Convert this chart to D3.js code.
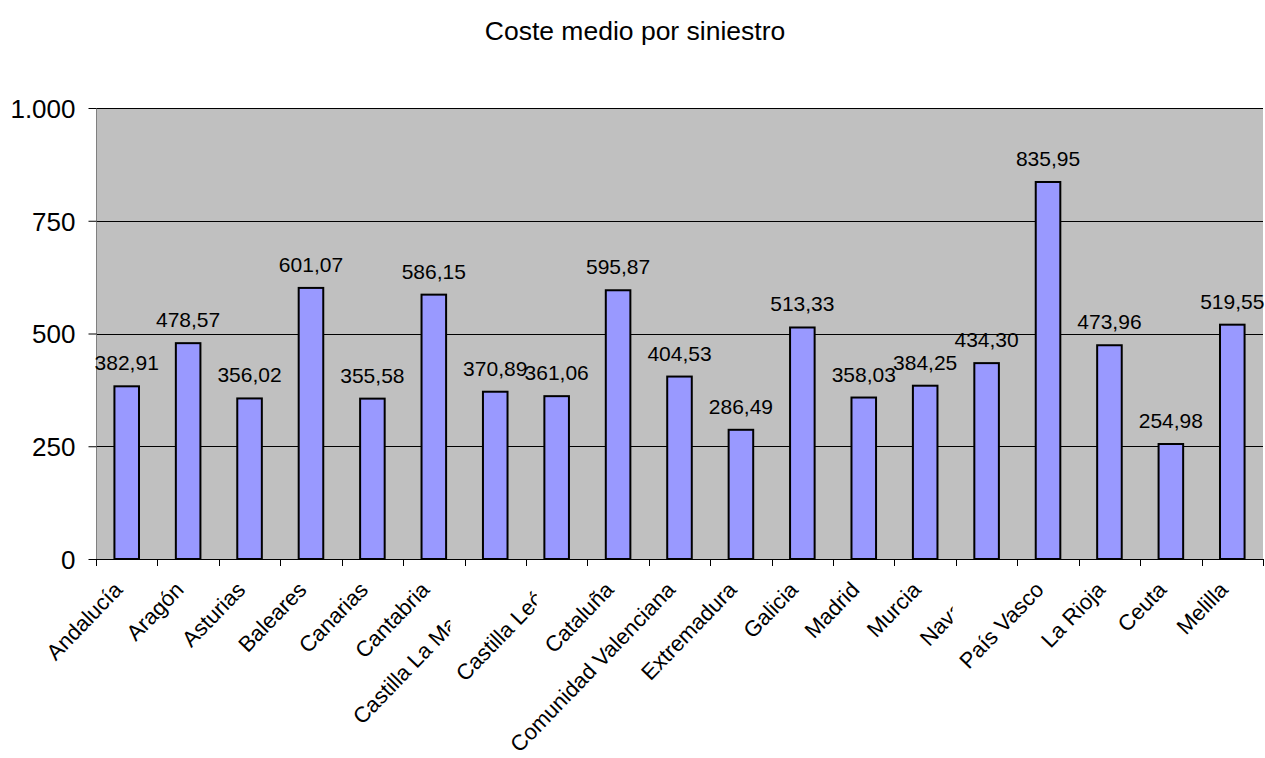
<!DOCTYPE html>
<html>
<head>
<meta charset="utf-8">
<script src="https://cdn.jsdelivr.net/npm/d3@7"></script>
<style>
  html, body { margin: 0; padding: 0; background: #fff; }
  svg { display: block; font-family: "Liberation Sans", Arial, sans-serif; }
</style>
</head>
<body>
<svg id="chart" width="1265" height="758"></svg>
<script>
const title = "Coste medio por siniestro";
const categories = ["Andalucía", "Aragón", "Asturias", "Baleares", "Canarias", "Cantabria",
  "Castilla La Mancha", "Castilla León", "Cataluña", "Comunidad Valenciana", "Extremadura",
  "Galicia", "Madrid", "Murcia", "Navarra", "País Vasco", "La Rioja", "Ceuta", "Melilla"];
const values = [382.91, 478.57, 356.02, 601.07, 355.58, 586.15, 370.89, 361.06, 595.87,
  404.53, 286.49, 513.33, 358.03, 384.25, 434.30, 835.95, 473.96, 254.98, 519.55];
const yTicks = [0, 250, 500, 750, 1000];
const yTickLabels = ["0", "250", "500", "750", "1.000"];
// visible part of some category labels is clipped (offset from category centre, px)
const labelClip = { "Castilla La Mancha": -45, "Castilla León": -20, "Navarra": -34 };

(function () {
const svg = d3.select("#chart");
const pL = 96, pR = 1263, pT = 108, pB = 559;

const x = d3.scaleBand().domain(categories).range([pL, pR]).paddingInner(0.6).paddingOuter(0.3);
const xStep = d3.scalePoint().domain(categories).range([pL, pR]).padding(0.5);
const y = d3.scaleLinear().domain([0, 1000]).range([pB, pT]);

// title
svg.append("text").attr("x", 635).attr("y", 40).attr("text-anchor", "middle")
  .attr("font-size", 26.5).attr("fill", "#000").text(title);

// plot area
svg.append("rect").attr("x", pL).attr("y", pT).attr("width", pR - pL).attr("height", pB - pT)
  .attr("fill", "#C0C0C0");

// gridlines
svg.append("g").selectAll("line").data(yTicks.filter(d => d > 0)).join("line")
  .attr("x1", pL).attr("x2", pR)
  .attr("y1", d => Math.round(y(d)) + 0.5).attr("y2", d => Math.round(y(d)) + 0.5)
  .attr("stroke", "#000").attr("stroke-width", 1);

// y axis
const yAxis = d3.axisLeft(y).tickValues(yTicks).tickSize(8)
  .tickFormat((d, i) => yTickLabels[i]);
const gy = svg.append("g").attr("transform", `translate(${pL + 0.5},0)`).call(yAxis);
gy.select(".domain").attr("stroke", "#808080").attr("d", `M0,${pT}V${pB}`);
gy.selectAll(".tick line").attr("stroke", "#000");
gy.selectAll(".tick text").attr("font-size", 26).attr("fill", "#000")
  .attr("font-family", "Liberation Sans, Arial, sans-serif").attr("x", -21).attr("dy", "0.36em");

// x axis (ticks at category boundaries)
const boundaries = d3.range(categories.length + 1).map(i => pL + i * x.step());
svg.append("g").selectAll("line").data(boundaries).join("line")
  .attr("x1", d => Math.round(d) + 0.5).attr("x2", d => Math.round(d) + 0.5)
  .attr("y1", pB).attr("y2", pB + 7).attr("stroke", "#000");
svg.append("line").attr("x1", pL).attr("x2", pR).attr("y1", pB + 0.5).attr("y2", pB + 0.5)
  .attr("stroke", "#000");

// bars
svg.append("g").selectAll("rect").data(values).join("rect")
  .attr("x", (d, i) => x(categories[i]))
  .attr("y", d => y(d))
  .attr("width", x.bandwidth())
  .attr("height", d => pB - y(d))
  .attr("fill", "#9999FF").attr("stroke", "#000").attr("stroke-width", 2);

// value labels
const fmt = d => d3.format(".2f")(d).replace(".", ",");
svg.append("g").selectAll("text").data(values).join("text")
  .attr("x", (d, i) => xStep(categories[i]))
  .attr("y", d => y(d) - 16)
  .attr("text-anchor", "middle").attr("font-size", 21).attr("fill", "#000")
  .text(fmt);

// category labels
const defs = svg.append("defs");
const gx = svg.append("g");
categories.forEach((c, i) => {
  const cx = xStep(c);
  const g = gx.append("g");
  if (labelClip[c] !== undefined) {
    const id = "clip" + i;
    defs.append("clipPath").attr("id", id).append("rect")
      .attr("x", 0).attr("y", pB).attr("width", cx + labelClip[c]).attr("height", 758 - pB);
    g.attr("clip-path", `url(#${id})`);
  }
  g.append("text")
    .attr("transform", `translate(${cx - 3},${591}) rotate(-46)`)
    .attr("text-anchor", "end").attr("font-size", 22).attr("fill", "#000")
    .text(c);
});
})();
</script>
</body>
</html>
